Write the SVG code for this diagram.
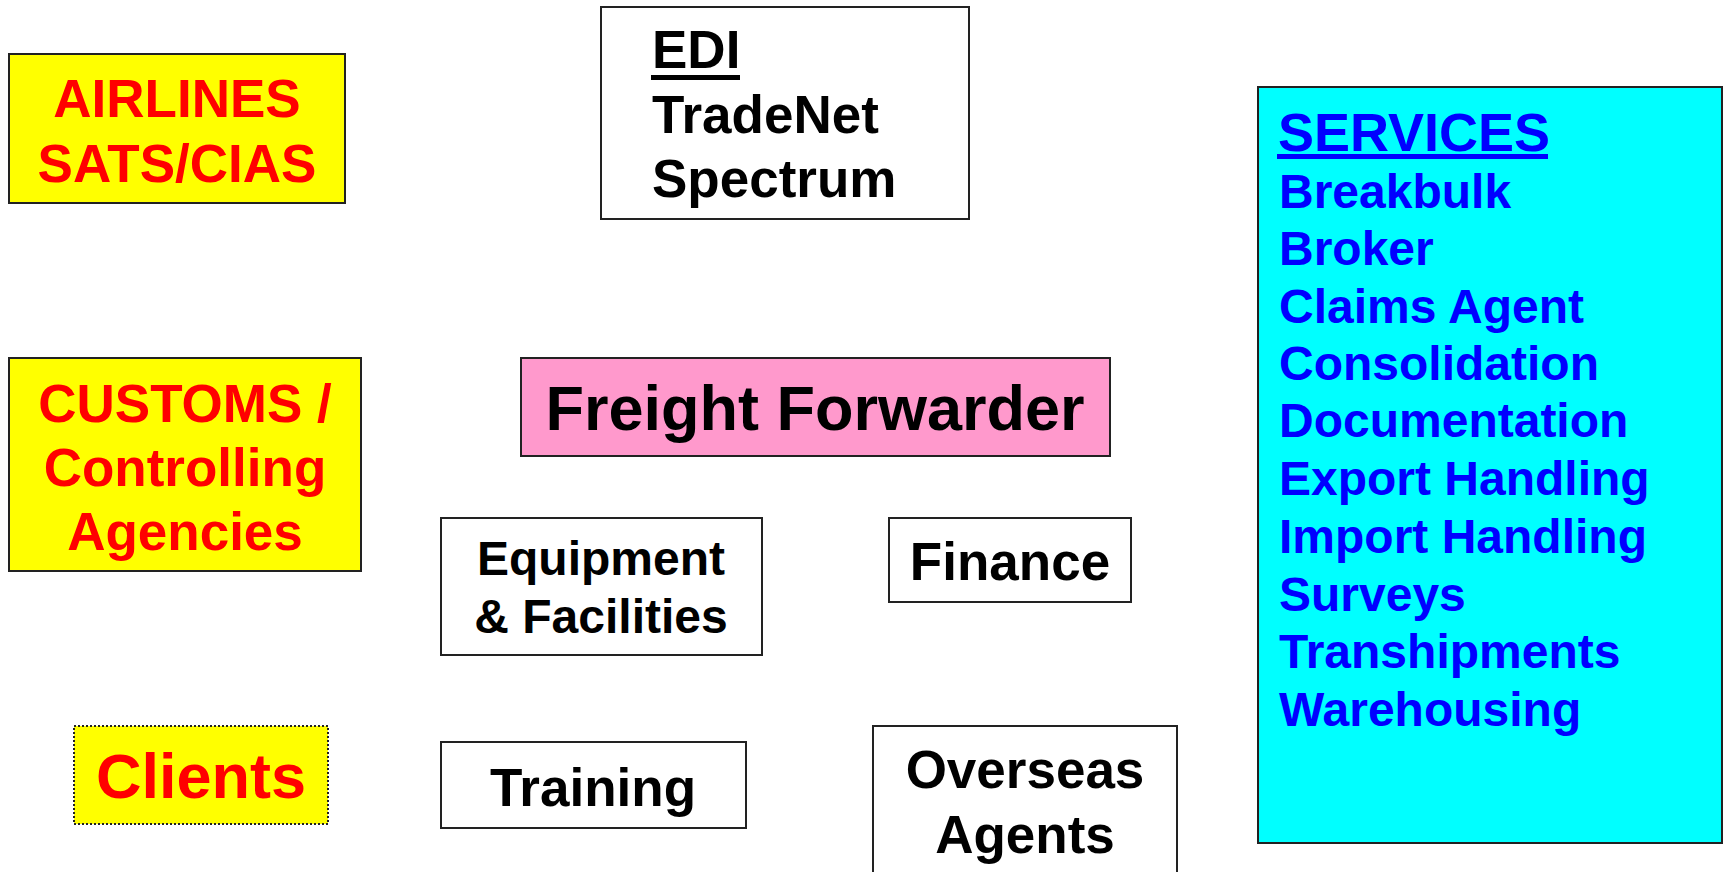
<svg xmlns="http://www.w3.org/2000/svg" width="1724" height="872" viewBox="0 0 1724 872">
<style>
.box{stroke:#222;stroke-width:2}
.t{font-family:"Liberation Sans",Arial,sans-serif;font-weight:bold}
.red{fill:#FF0000}
.blk{fill:#000}
.blu{fill:#0000FF}
</style>
<rect width="1724" height="872" fill="#fff"/>
<g id="connectors"></g>
<g id="airlines">
<rect class="box" x="9" y="54" width="336" height="149" fill="#FFFF00"/>
<text class="t red" font-size="53" text-anchor="middle"><tspan x="177" y="117">AIRLINES</tspan><tspan x="177" y="182">SATS/CIAS</tspan></text>
</g>
<g id="edi">
<rect class="box" x="601" y="7" width="368" height="212" fill="#fff"/>
<text class="t blk" font-size="53"><tspan x="652" y="68">EDI</tspan><tspan x="652" y="133">TradeNet</tspan><tspan x="652" y="197">Spectrum</tspan></text>
<rect x="651" y="75" width="89" height="5" fill="#000"/>
</g>
<g id="services">
<rect class="box" x="1258" y="87" width="464" height="756" fill="#00FFFF"/>
<text class="t blu" font-size="54" x="1278" y="151">SERVICES</text>
<rect x="1277" y="154" width="271" height="5" fill="#0000FF"/>
<text class="t blu" font-size="48"><tspan x="1279" y="208">Breakbulk</tspan><tspan x="1279" y="265">Broker</tspan><tspan x="1279" y="323">Claims Agent</tspan><tspan x="1279" y="380">Consolidation</tspan><tspan x="1279" y="437">Documentation</tspan><tspan x="1279" y="495">Export Handling</tspan><tspan x="1279" y="553">Import Handling</tspan><tspan x="1279" y="611">Surveys</tspan><tspan x="1279" y="668">Transhipments</tspan><tspan x="1279" y="726">Warehousing</tspan></text>
</g>
<g id="customs">
<rect class="box" x="9" y="358" width="352" height="213" fill="#FFFF00"/>
<text class="t red" font-size="53" text-anchor="middle"><tspan x="185" y="422">CUSTOMS /</tspan><tspan x="185" y="486">Controlling</tspan><tspan x="185" y="550">Agencies</tspan></text>
</g>
<g id="freight">
<rect class="box" x="521" y="358" width="589" height="98" fill="#FF99CC"/>
<text class="t blk" font-size="63" text-anchor="middle" x="815" y="430">Freight Forwarder</text>
</g>
<g id="equipment">
<rect class="box" x="441" y="518" width="321" height="137" fill="#fff"/>
<text class="t blk" font-size="48" text-anchor="middle"><tspan x="601" y="575">Equipment</tspan><tspan x="601" y="633">&amp; Facilities</tspan></text>
</g>
<g id="finance">
<rect class="box" x="889" y="518" width="242" height="84" fill="#fff"/>
<text class="t blk" font-size="53" text-anchor="middle" x="1010" y="580">Finance</text>
</g>
<g id="clients">
<rect x="74" y="726" width="254" height="98" fill="#FFFF00" stroke="#222" stroke-width="2" stroke-dasharray="2,2"/>
<text class="t red" font-size="63" text-anchor="middle" x="201" y="798">Clients</text>
</g>
<g id="training">
<rect class="box" x="441" y="742" width="305" height="86" fill="#fff"/>
<text class="t blk" font-size="53" text-anchor="middle" x="593" y="806">Training</text>
</g>
<g id="overseas">
<rect class="box" x="873" y="726" width="304" height="160" fill="#fff"/>
<text class="t blk" font-size="53" text-anchor="middle"><tspan x="1025" y="788">Overseas</tspan><tspan x="1025" y="853">Agents</tspan></text>
</g>
</svg>
